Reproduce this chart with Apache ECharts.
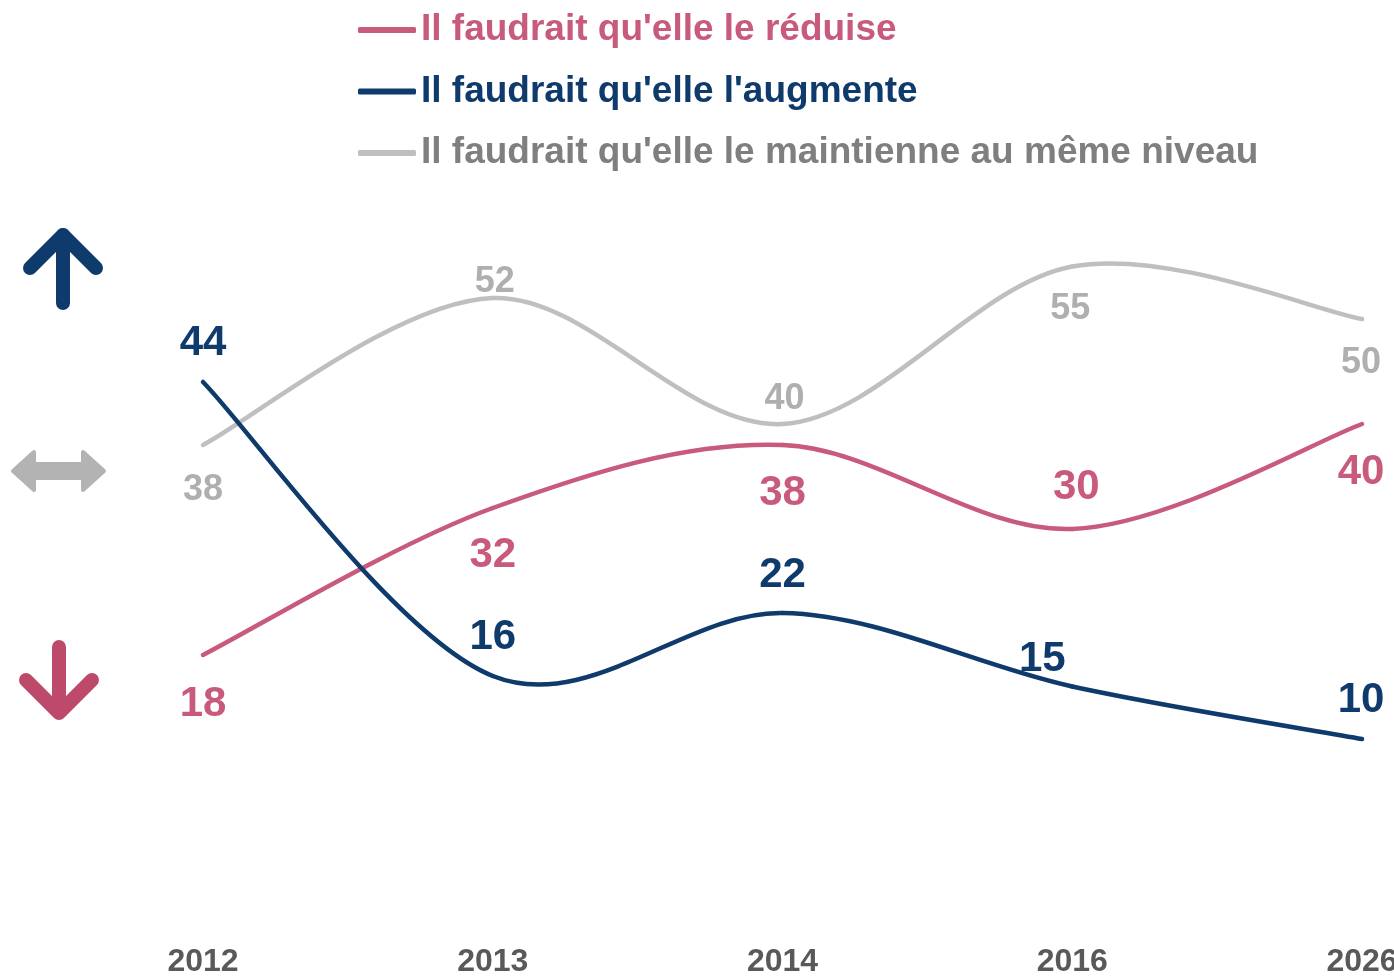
<!DOCTYPE html>
<html lang="fr">
<head>
<meta charset="UTF-8" />
<title>Il faudrait qu'elle...</title>
<style>
  html, body { margin: 0; padding: 0; background: #fff; }
  #chart { width: 1394px; height: 977px; }
</style>
</head>
<body>
<div id="chart"></div>
<script src="https://cdn.jsdelivr.net/npm/echarts@6/dist/echarts.min.js"></script>
<script>
  // Données
  const years = ['2012', '2013', '2014', '2016', '2026'];
  const reduise = [18, 32, 38, 30, 40];
  const augmente = [44, 16, 22, 15, 10];
  const maintienne = [38, 52, 40, 55, 50];

  const names = [
    "Il faudrait qu'elle le réduise",
    "Il faudrait qu'elle l'augmente",
    "Il faudrait qu'elle le maintienne au même niveau"
  ];

  // Décalage des étiquettes (centre du texte par rapport au point)
  const offReduise = [[0, 49], [0, 47], [0, 48], [4, -42], [-1, 48]];
  const offAugmente = [[0, -39], [0, -39], [0, -38], [-30, -27], [-1, -39]];
  const offMaintienne = [[0, 45], [2, -16], [2, -25], [-2, 43], [-1, 44]];

  const PINK = '#C85A7B';
  const BLUE = '#0F3A6C';
  const GREY = '#BFBFBF';
  const FONT = "'Liberation Sans', Arial, sans-serif";

  // Série "line" invisible : sert aux étiquettes et à la légende
  function labelSeries(name, values, offsets, color, labelColor, fontSize) {
    return {
      name: name,
      type: 'line',
      symbol: 'circle',
      symbolSize: 2,
      showSymbol: true,
      color: color,
      lineStyle: { width: 0, opacity: 0 },
      itemStyle: { color: color },
      data: values.map((v, i) => ({
        value: v,
        label: { offset: offsets[i] }
      })),
      label: {
        show: true,
        position: 'inside',
        align: 'center',
        verticalAlign: 'middle',
        color: labelColor,
        fontFamily: FONT,
        fontWeight: 'bold',
        fontSize: fontSize
      },
      emphasis: { disabled: true },
      z: 5
    };
  }

  // Courbe lissée (type Catmull-Rom, comme Excel) via les axes d'ECharts
  function curveSeries(id, values, color, z) {
    const n = values.length;
    return {
      name: id,
      type: 'custom',
      coordinateSystem: 'cartesian2d',
      silent: true,
      z: z,
      data: values.map((v, i) => [i, v]),
      encode: { x: 0, y: 1 },
      renderItem: function (params, api) {
        const i = params.dataIndex;
        if (i >= n - 1) return null;
        const p = k => api.coord([k, values[k]]);
        const p0 = p(Math.max(i - 1, 0));
        const p1 = p(i);
        const p2 = p(i + 1);
        const p3 = p(Math.min(i + 2, n - 1));
        return {
          type: 'bezierCurve',
          shape: {
            x1: p1[0], y1: p1[1],
            cpx1: p1[0] + (p2[0] - p0[0]) / 6,
            cpy1: p1[1] + (p2[1] - p0[1]) / 6,
            cpx2: p2[0] - (p3[0] - p1[0]) / 6,
            cpy2: p2[1] - (p3[1] - p1[1]) / 6,
            x2: p2[0], y2: p2[1]
          },
          style: { stroke: color, lineWidth: 4.5, lineCap: 'round', fill: null }
        };
      }
    };
  }

  const chart = echarts.init(document.getElementById('chart'));

  const arrowStyle = (c, w) => ({ stroke: c, fill: null, lineWidth: w, lineCap: 'round', lineJoin: 'round' });

  const option = {
    animation: false,
    backgroundColor: '#fff',
    grid: { left: 203, right: 32, top: 214, bottom: 133, containLabel: false, outerBoundsMode: 'none' },
    legend: {
      orient: 'vertical',
      left: 353,
      top: 5,
      icon: 'roundRect',
      itemWidth: 58,
      itemHeight: 6,
      itemGap: 21.5,
      selectedMode: false,
      textStyle: { fontFamily: FONT, fontWeight: 'bold', fontSize: 37, lineHeight: 40 },
      data: [
        { name: names[0], itemStyle: { color: PINK }, textStyle: { color: PINK } },
        { name: names[1], itemStyle: { color: BLUE }, textStyle: { color: BLUE } },
        { name: names[2], itemStyle: { color: GREY }, textStyle: { color: '#7F7F7F' } }
      ]
    },
    xAxis: {
      type: 'category',
      data: years,
      boundaryGap: false,
      axisLine: { show: false },
      axisTick: { show: false },
      splitLine: { show: false },
      axisLabel: {
        interval: 0,
        margin: 102,
        color: '#595959',
        fontFamily: FONT,
        fontWeight: 'bold',
        fontSize: 32
      }
    },
    yAxis: {
      type: 'value',
      min: 0,
      max: 60,
      show: false
    },
    // Flèches à gauche
    graphic: [
      { type: 'polyline', shape: { points: [[63, 303], [63, 235]] }, style: arrowStyle(BLUE, 14) },
      { type: 'polyline', shape: { points: [[30, 268], [63, 235], [96, 268]] }, style: arrowStyle(BLUE, 14) },
      {
        type: 'polygon',
        shape: {
          points: [[13, 471], [34, 452], [34, 464], [83, 464], [83, 452], [104, 471],
                   [83, 490], [83, 478], [34, 478], [34, 490]]
        },
        style: { fill: '#B3B3B3', stroke: '#B3B3B3', lineWidth: 4, lineJoin: 'round' }
      },
      { type: 'polyline', shape: { points: [[59, 647], [59, 712]] }, style: arrowStyle('#BE4A6B', 14) },
      { type: 'polyline', shape: { points: [[26, 680], [59, 713], [92, 680]] }, style: arrowStyle('#BE4A6B', 14) }
    ],
    series: [
      curveSeries('courbe-maintienne', maintienne, GREY, 2),
      curveSeries('courbe-reduise', reduise, PINK, 3),
      curveSeries('courbe-augmente', augmente, BLUE, 4),
      labelSeries(names[2], maintienne, offMaintienne, GREY, '#AFAFAF', 36),
      labelSeries(names[0], reduise, offReduise, PINK, PINK, 42),
      labelSeries(names[1], augmente, offAugmente, BLUE, BLUE, 42)
    ]
  };

  chart.setOption(option);
  window.addEventListener('resize', () => chart.resize());
</script>
</body>
</html>
